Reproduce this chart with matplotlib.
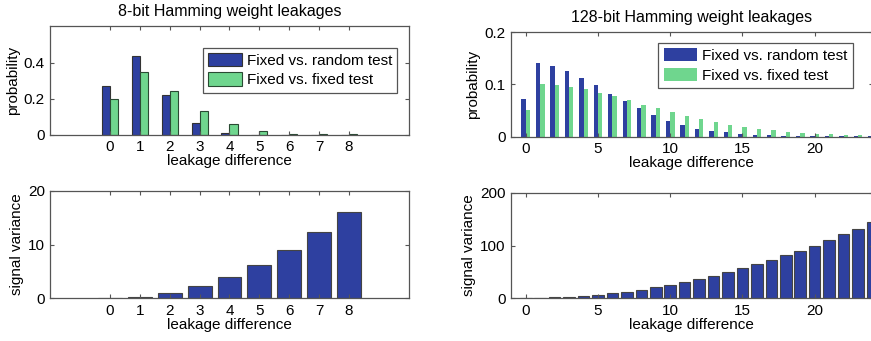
"""
Hamming weight leakage distributions and signal variance (8-bit vs 128-bit).
"""
import matplotlib
matplotlib.use('Agg')
import matplotlib.pyplot as plt
import numpy as np

plt.rcParams['font.family'] = ['Liberation Sans', 'DejaVu Sans']
plt.rcParams['font.size'] = 11

BLUE = '#2e40a0'
GREEN = '#6fd68e'
AXC = '#555555'
FS = 11

# 8-bit data
diff8 = np.arange(9)
rand8 = [0.273, 0.438, 0.219, 0.0625, 0.0078, 0.0, 0.0, 0.0, 0.0]
fixed8 = [0.196, 0.349, 0.242, 0.131, 0.058, 0.019, 0.004, 0.001, 0.0002]
var8 = [0, 0.25, 1, 2.25, 4, 6.25, 9, 12.25, 16]

# 128-bit data
diff128 = np.arange(25)
rand128 = [0.072, 0.140, 0.134, 0.125, 0.112, 0.098, 0.082, 0.068, 0.054,
           0.041, 0.030, 0.022, 0.015, 0.011, 0.008, 0.005, 0.003, 0.002,
           0.0015, 0.001, 0.0008, 0.0006, 0.0005, 0.0004, 0.0003]
fixed128 = [0.050, 0.101, 0.098, 0.094, 0.090, 0.084, 0.077, 0.070, 0.061,
            0.054, 0.047, 0.040, 0.033, 0.028, 0.022, 0.019, 0.015, 0.012,
            0.0095, 0.0065, 0.005, 0.004, 0.003, 0.003, 0.0025]
var128 = [0, 0.25, 1, 2.25, 4, 6.25, 9, 12.25, 16, 20.25, 25, 30.25, 36,
          42.25, 49, 56.25, 64, 72.25, 81, 90.25, 100, 110.25, 121, 132.25, 144]

W, H = 871, 341
fig = plt.figure(figsize=(W / 100, H / 100), dpi=100)


def px_axes(left, top, right, bottom):
    return fig.add_axes([left / W, 1 - bottom / H, (right - left) / W, (bottom - top) / H])


def style(ax):
    for s in ax.spines.values():
        s.set_color(AXC)
        s.set_linewidth(0.9)
    ax.tick_params(direction='in', top=True, right=True, length=3,
                   color=AXC, labelsize=FS, pad=4)


ax1 = px_axes(50.4, 26, 408.5, 134.5)
ax2 = px_axes(511.3, 32, 872.5, 136.5)
ax3 = px_axes(50.4, 191, 408.5, 298)
ax4 = px_axes(511.3, 193, 872.5, 298)

# Top left: 8-bit probabilities
bw = 0.27
ax1.bar(diff8 - bw / 2, rand8, bw, color=BLUE, edgecolor='#333333', linewidth=0.8,
        label='Fixed vs. random test')
ax1.bar(diff8 + bw / 2, fixed8, bw, color=GREEN, edgecolor='#2a4a33', linewidth=0.8,
        label='Fixed vs. fixed test')
ax1.set_xlim(-2, 10)
ax1.set_ylim(0, 0.605)
ax1.set_xticks(diff8)
ax1.set_yticks([0, 0.2, 0.4])
ax1.set_yticklabels(['0', '0.2', '0.4'])
ax1.set_ylabel('probability', labelpad=3)
ax1.set_xlabel('leakage difference', labelpad=0)
ax1.set_title('8-bit Hamming weight leakages', fontsize=11.5, pad=7)
leg1 = ax1.legend(loc='upper right', bbox_to_anchor=(0.969, 0.80), borderaxespad=0,
                  fancybox=False, framealpha=1, edgecolor=AXC, handlelength=2.2,
                  handleheight=0.95, handletextpad=0.3, labelspacing=0.3,
                  borderpad=0.35, fontsize=FS)
leg1.get_frame().set_linewidth(0.9)
style(ax1)

# Top right: 128-bit probabilities
bw2 = 0.3
ax2.bar(diff128 - bw2 / 2, rand128, bw2, color=BLUE, edgecolor='none',
        label='Fixed vs. random test')
ax2.bar(diff128 + bw2 / 2, fixed128, bw2, color=GREEN, edgecolor='none',
        label='Fixed vs. fixed test')
ax2.set_xlim(-1, 24)
ax2.set_ylim(0, 0.2)
ax2.set_xticks([0, 5, 10, 15, 20])
ax2.set_yticks([0, 0.1, 0.2])
ax2.set_yticklabels(['0', '0.1', '0.2'])
ax2.set_ylabel('probability', labelpad=3)
ax2.set_xlabel('leakage difference', labelpad=0)
ax2.set_title('128-bit Hamming weight leakages', fontsize=11.5, pad=7)
leg2 = ax2.legend(loc='upper right', bbox_to_anchor=(0.945, 0.895), borderaxespad=0,
                  fancybox=False, framealpha=1, edgecolor=AXC, handlelength=2.2,
                  handleheight=0.95, handletextpad=0.3, labelspacing=0.3,
                  borderpad=0.35, fontsize=FS)
leg2.get_frame().set_linewidth(0.9)
style(ax2)

# Bottom left: 8-bit signal variance
ax3.bar(diff8, var8, 0.8, color=BLUE, edgecolor='#444444', linewidth=0.8)
ax3.set_xlim(-2, 10)
ax3.set_ylim(0, 20)
ax3.set_xticks(diff8)
ax3.set_yticks([0, 10, 20])
ax3.set_ylabel('signal variance', labelpad=3)
ax3.set_xlabel('leakage difference', labelpad=0)
style(ax3)

# Bottom right: 128-bit signal variance
ax4.bar(diff128, var128, 0.8, color=BLUE, edgecolor='#444444', linewidth=0.8)
ax4.set_xlim(-1, 24)
ax4.set_ylim(0, 200)
ax4.set_xticks([0, 5, 10, 15, 20])
ax4.set_yticks([0, 100, 200])
ax4.set_ylabel('signal variance', labelpad=3)
ax4.set_xlabel('leakage difference', labelpad=0)
style(ax4)

fig.savefig('out.png', dpi=100)
